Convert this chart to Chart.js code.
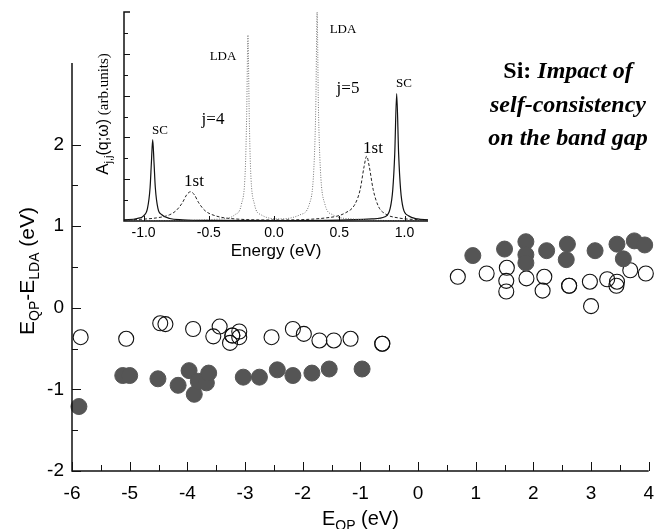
<!DOCTYPE html>
<html>
<head>
<meta charset="utf-8">
<script src="https://cdn.jsdelivr.net/npm/chart.js@4.4.1/dist/chart.umd.min.js"></script>
<style>
  html, body { margin: 0; padding: 0; background: #fff; }
  #wrap { position: relative; width: 665px; height: 529px; overflow: hidden; }
  canvas { position: absolute; left: 0; top: 0; }
</style>
</head>
<body>
<div id="wrap">
  <canvas id="mainChart" width="665" height="529"></canvas>
  <canvas id="insetChart" width="665" height="529"></canvas>
</div>
<script>
// main panel: E_QP vs E_QP - E_LDA
const mainXTicks = [-6, -5, -4, -3, -2, -1, 0, 1, 2, 3, 4];
const mainYTicks = [-2, -1, 0, 1, 2];

// filled circles (self-consistent)
const scX = [-5.88, -5.12, -5.00, -4.51, -4.16, -3.97, -3.88, -3.81, -3.67, -3.63, -3.03, -2.75, -2.44, -2.17, -1.84, -1.54, -0.97,
             0.95, 1.50, 1.87, 1.87, 1.87, 2.23, 2.59, 2.57, 3.07, 3.45, 3.56, 3.75, 3.93];
const scY = [-1.21, -0.83, -0.83, -0.87, -0.95, -0.77, -1.06, -0.90, -0.92, -0.80, -0.85, -0.85, -0.76, -0.83, -0.80, -0.75, -0.75,
             0.64, 0.72, 0.81, 0.65, 0.55, 0.70, 0.78, 0.59, 0.70, 0.78, 0.60, 0.82, 0.77];

// open circles (first iteration)
const firstX = [-5.85, -5.06, -4.47, -4.38, -3.90, -3.55, -3.44, -3.26, -3.22, -3.22, -3.10, -3.10, -2.54, -2.17, -1.98, -1.71, -1.46, -1.17, -0.62, -0.62,
                0.69, 1.19, 1.54, 1.53, 1.53, 1.88, 2.19, 2.16, 2.62, 2.62, 2.98, 3.00, 3.28, 3.45, 3.44, 3.68, 3.95];
const firstY = [-0.36, -0.38, -0.19, -0.20, -0.26, -0.35, -0.23, -0.43, -0.34, -0.34, -0.29, -0.36, -0.36, -0.26, -0.32, -0.40, -0.40, -0.38, -0.44, -0.44,
                0.38, 0.42, 0.49, 0.33, 0.20, 0.36, 0.38, 0.21, 0.27, 0.27, 0.32, 0.02, 0.35, 0.32, 0.27, 0.46, 0.42];

// inset: spectral function A_jj(q;w)
const insetXTicks = [-1.0, -0.5, 0.0, 0.5, 1.0];
const specScE = [-1.15, -1.05, -1.0, -0.97, -0.95, -0.94, -0.93, -0.92, -0.91, -0.89, -0.86, -0.8, -0.7, -0.5, 0.0, 0.5, 0.75, 0.85, 0.89, 0.91, 0.925, 0.94, 0.955, 0.97, 0.99, 1.03, 1.1, 1.18];
const specScA = [0.05, 0.12, 0.25, 0.6, 1.6, 2.8, 3.9, 2.8, 1.6, 0.6, 0.3, 0.12, 0.06, 0.03, 0.02, 0.04, 0.1, 0.2, 0.6, 1.5, 3.2, 6.1, 3.2, 1.5, 0.6, 0.25, 0.1, 0.06];
const spec1stE = [-1.15, -0.9, -0.8, -0.75, -0.7, -0.67, -0.64, -0.61, -0.58, -0.53, -0.45, -0.3, 0.0, 0.4, 0.55, 0.62, 0.66, 0.69, 0.71, 0.73, 0.76, 0.8, 0.85, 0.95, 1.18];
const spec1stA = [0.05, 0.15, 0.3, 0.5, 0.9, 1.25, 1.4, 1.25, 0.9, 0.5, 0.25, 0.1, 0.05, 0.15, 0.4, 0.8, 1.5, 2.6, 3.1, 2.6, 1.5, 0.7, 0.35, 0.15, 0.05];
const specLdaE = [-1.15, -0.4, -0.3, -0.25, -0.22, -0.21, -0.2, -0.19, -0.18, -0.15, -0.1, 0.05, 0.2, 0.27, 0.305, 0.32, 0.33, 0.34, 0.355, 0.39, 0.45, 0.6, 1.18];
const specLdaA = [0.0, 0.1, 0.3, 0.8, 2.5, 5.0, 8.9, 5.0, 2.5, 0.8, 0.3, 0.1, 0.3, 0.8, 2.5, 5.5, 10.0, 5.5, 2.5, 0.8, 0.3, 0.1, 0.0];

const sans = '"Liberation Sans", Arial, Helvetica, sans-serif';
const serif = '"Liberation Serif", "Times New Roman", serif';

function toPoints(xs, ys) {
    return xs.map((x, i) => ({ x: x, y: ys[i] }));
}

// draws a run of text pieces (with sub/sup offsets), centred at (cx, cy)
function drawRich(ctx, parts, cx, cy, angle) {
    ctx.save();
    ctx.translate(cx, cy);
    if (angle) ctx.rotate(angle);
    ctx.textBaseline = 'alphabetic';
    ctx.textAlign = 'left';
    let total = 0;
    parts.forEach(p => { ctx.font = p.font; total += ctx.measureText(p.text).width; });
    let x = -total / 2;
    parts.forEach(p => {
        ctx.font = p.font;
        ctx.fillStyle = '#000';
        ctx.fillText(p.text, x, (p.dy || 0));
        x += ctx.measureText(p.text).width;
    });
    ctx.restore();
}

const mainAxesPlugin = {
    id: 'mainAxes',
    afterDraw(chart) {
        const ctx = chart.ctx;
        const xs = chart.scales.x, ys = chart.scales.y;
        const a = chart.chartArea;
        ctx.save();
        ctx.strokeStyle = '#111';
        ctx.lineWidth = 1.5;
        ctx.beginPath();
        ctx.moveTo(a.left, a.top);
        ctx.lineTo(a.left, a.bottom);
        ctx.lineTo(a.right, a.bottom);
        ctx.stroke();
        ctx.lineWidth = 1;
        ctx.beginPath();
        mainXTicks.forEach(v => {
            const px = Math.round(xs.getPixelForValue(v)) + 0.5;
            ctx.moveTo(px, a.bottom); ctx.lineTo(px, a.bottom - 9);
            if (v < 4) {
                const mx = Math.round(xs.getPixelForValue(v + 0.5)) + 0.5;
                ctx.moveTo(mx, a.bottom); ctx.lineTo(mx, a.bottom - 6);
            }
        });
        mainYTicks.forEach(v => {
            const py = Math.round(ys.getPixelForValue(v)) + 0.5;
            ctx.moveTo(a.left, py); ctx.lineTo(a.left + 9, py);
            if (v < 2) {
                const my = Math.round(ys.getPixelForValue(v + 0.5)) + 0.5;
                ctx.moveTo(a.left, my); ctx.lineTo(a.left + 6, my);
            }
        });
        ctx.stroke();
        ctx.restore();

        // axis titles
        drawRich(ctx, [
            { text: 'E', font: '20px ' + sans, dy: 7 },
            { text: 'QP', font: '14px ' + sans, dy: 12 },
            { text: ' (eV)', font: '20px ' + sans, dy: 7 }
        ], (a.left + a.right) / 2, 518, 0);
        drawRich(ctx, [
            { text: 'E', font: '21px ' + sans, dy: 7 },
            { text: 'QP', font: '14px ' + sans, dy: 12 },
            { text: '-E', font: '21px ' + sans, dy: 7 },
            { text: 'LDA', font: '14px ' + sans, dy: 12 },
            { text: ' (eV)', font: '21px ' + sans, dy: 7 }
        ], 27, 271, -Math.PI / 2);

        // headline
        drawRich(ctx, [
            { text: 'Si: ', font: 'bold 24px ' + serif, dy: 8 },
            { text: 'Impact of', font: 'italic bold 24px ' + serif, dy: 8 }
        ], 568, 70, 0);
        drawRich(ctx, [{ text: 'self-consistency', font: 'italic bold 24px ' + serif, dy: 8 }], 568, 104, 0);
        drawRich(ctx, [{ text: 'on the band gap', font: 'italic bold 24px ' + serif, dy: 8 }], 568, 137, 0);
    }
};

const insetAxesPlugin = {
    id: 'insetAxes',
    afterDraw(chart) {
        const ctx = chart.ctx;
        const xs = chart.scales.x, ys = chart.scales.y;
        const a = chart.chartArea;
        ctx.save();
        ctx.strokeStyle = '#111';
        ctx.lineWidth = 1.5;
        ctx.beginPath();
        ctx.moveTo(a.left + 6, a.top);
        ctx.lineTo(a.left, a.top);
        ctx.lineTo(a.left, a.bottom);
        ctx.lineTo(a.right, a.bottom);
        ctx.stroke();
        ctx.lineWidth = 1;
        ctx.beginPath();
        for (let v = 1; v < 10; v++) {
            const py = Math.round(ys.getPixelForValue(v)) + 0.5;
            ctx.moveTo(a.left, py); ctx.lineTo(a.left + (v % 2 === 0 ? 6 : 4), py);
        }
        insetXTicks.forEach(v => {
            const px = Math.round(xs.getPixelForValue(v)) + 0.5;
            ctx.moveTo(px, a.bottom); ctx.lineTo(px, a.bottom - 5);
        });
        ctx.stroke();
        ctx.restore();

        drawRich(ctx, [{ text: 'Energy (eV)', font: '17px ' + sans, dy: 6 }], (a.left + a.right) / 2, 250, 0);
        drawRich(ctx, [
            { text: 'A', font: '17px ' + sans, dy: 6 },
            { text: 'j,j', font: '11px ' + sans, dy: 10 },
            { text: '(q;\u03c9)', font: '16px ' + sans, dy: 6 },
            { text: ' (arb.units)', font: '15px ' + serif, dy: 6 }
        ], 102, 114, -Math.PI / 2);

        const labels = [
            ['SC', 160, 129, '13px'], ['1st', 194, 180, '17px'], ['j=4', 213, 118, '17px'], ['LDA', 223, 55, '13px'],
            ['LDA', 343, 28, '13px'], ['j=5', 348, 87, '17px'], ['1st', 373, 147, '17px'], ['SC', 404, 82, '13px']
        ];
        labels.forEach(l => {
            drawRich(ctx, [{ text: l[0], font: l[3] + ' ' + serif, dy: parseInt(l[3]) * 0.35 }], l[1], l[2], 0);
        });
    }
};

new Chart(document.getElementById('mainChart'), {
    type: 'scatter',
    data: {
        datasets: [{
            label: 'self-consistent',
            data: toPoints(scX, scY),
            pointRadius: 8,
            pointBackgroundColor: '#555',
            pointBorderColor: '#555',
            pointBorderWidth: 1,
            clip: false
        }, {
            label: 'first iteration',
            data: toPoints(firstX, firstY),
            pointRadius: 7.5,
            pointBackgroundColor: 'rgba(0,0,0,0)',
            pointBorderColor: '#111',
            pointBorderWidth: 1.1,
            clip: false
        }]
    },
    plugins: [mainAxesPlugin],
    options: {
        responsive: false,
        animation: false,
        layout: { padding: { left: 0, top: 63, right: 7, bottom: 0 } },
        plugins: { legend: { display: false }, tooltip: { enabled: false } },
        scales: {
            x: {
                type: 'linear', min: -6, max: 4,
                afterBuildTicks: s => { s.ticks = mainXTicks.map(v => ({ value: v })); },
                afterFit: s => { s.height = 58; },
                grid: { display: false, drawTicks: false },
                border: { display: false },
                ticks: { color: '#000', font: { family: sans, size: 19 }, padding: 11, maxRotation: 0 }
            },
            y: {
                type: 'linear', min: -2, max: 3,
                afterBuildTicks: s => { s.ticks = mainYTicks.map(v => ({ value: v })); },
                afterFit: s => { s.width = 72; },
                grid: { display: false, drawTicks: false },
                border: { display: false },
                ticks: { color: '#000', font: { family: sans, size: 19 }, padding: 8 }
            }
        }
    }
});

new Chart(document.getElementById('insetChart'), {
    type: 'line',
    data: {
        datasets: [{
            label: 'LDA',
            data: toPoints(specLdaE, specLdaA),
            borderColor: '#777',
            borderWidth: 1,
            borderDash: [1, 1.5],
            pointRadius: 0,
            cubicInterpolationMode: 'monotone'
        }, {
            label: '1st',
            data: toPoints(spec1stE, spec1stA),
            borderColor: '#222',
            borderWidth: 1,
            borderDash: [3, 2],
            pointRadius: 0,
            cubicInterpolationMode: 'monotone'
        }, {
            label: 'SC',
            data: toPoints(specScE, specScA),
            borderColor: '#111',
            borderWidth: 1.2,
            pointRadius: 0,
            cubicInterpolationMode: 'monotone'
        }]
    },
    plugins: [insetAxesPlugin],
    options: {
        responsive: false,
        animation: false,
        layout: { padding: { left: 60, top: 12, right: 237, bottom: 264 } },
        plugins: { legend: { display: false }, tooltip: { enabled: false } },
        scales: {
            x: {
                type: 'linear', min: -1.15, max: 1.18,
                afterBuildTicks: s => { s.ticks = insetXTicks.map(v => ({ value: v })); },
                afterFit: s => { s.height = 44; },
                grid: { display: false, drawTicks: false },
                border: { display: false },
                ticks: { color: '#000', font: { family: sans, size: 14 }, padding: 4, maxRotation: 0,
                         callback: v => Number(v).toFixed(1) }
            },
            y: {
                type: 'linear', min: 0, max: 10,
                afterFit: s => { s.width = 64; },
                grid: { display: false, drawTicks: false },
                border: { display: false },
                ticks: { display: false }
            }
        }
    }
});
</script>
</body>
</html>
